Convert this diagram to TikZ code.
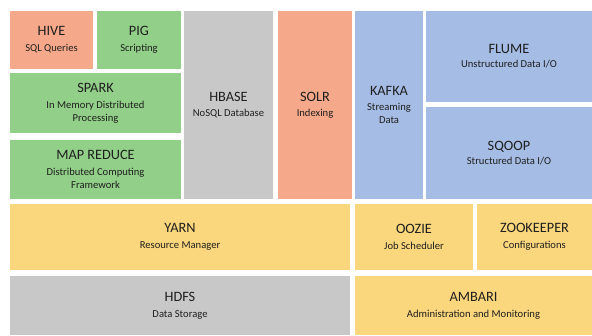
\documentclass[tikz,border=0pt]{standalone}
\usepackage{fontspec}
\setmainfont{Carlito}
\usetikzlibrary{positioning}

\definecolor{hivered}{RGB}{246,168,138}
\definecolor{sparkgreen}{RGB}{146,207,136}
\definecolor{storegray}{RGB}{200,200,200}
\definecolor{ingestblue}{RGB}{165,189,228}
\definecolor{mgmtyellow}{RGB}{250,214,124}

\newcommand{\blocktitle}[1]{{\fontsize{14.3}{15}\selectfont #1}}

\begin{document}
\begin{tikzpicture}[
    x=1pt, y=-1pt,
    tile/.style={anchor=north west, align=center, inner sep=2pt, outer sep=0pt,
                 text=black!88, font=\fontsize{10.6}{13}\selectfont},
    redtile/.style={tile, fill=hivered},
    greentile/.style={tile, fill=sparkgreen},
    graytile/.style={tile, fill=storegray},
    bluetile/.style={tile, fill=ingestblue},
    yellowtile/.style={tile, fill=mgmtyellow}
  ]
  \useasboundingbox (0,0) rectangle (592,335);

  % ---- processing stack ----
  \node[redtile, minimum width=83pt, minimum height=58pt] (hive) at (10,11)
    {\blocktitle{HIVE}\\[3pt] SQL Queries};
  \node[greentile, minimum width=84pt, minimum height=58pt] (pig) at (97,11)
    {\blocktitle{PIG}\\[3pt] Scripting};
  \node[greentile, minimum width=171pt, minimum height=60pt] (spark) at (10,73)
    {\blocktitle{SPARK}\\[3pt] In Memory Distributed\\ Processing};
  \node[greentile, minimum width=171pt, minimum height=59pt] (mapred) at (10,140)
    {\blocktitle{MAP REDUCE}\\[3pt] Distributed Computing\\ Framework};

  % ---- storage and search ----
  \node[graytile, minimum width=89pt, minimum height=188pt] (hbase) at (184,11)
    {\blocktitle{HBASE}\\[2pt] NoSQL Database};
  \node[redtile, minimum width=74pt, minimum height=188pt] (solr) at (278,11)
    {\blocktitle{SOLR}\\[2pt] Indexing};

  % ---- data ingestion ----
  \node[bluetile, minimum width=68pt, minimum height=188pt] (kafka) at (355,11)
    {\blocktitle{KAFKA}\\[2pt] Streaming\\ Data};
  \node[bluetile, minimum width=166pt, minimum height=91pt] (flume) at (426,11)
    {\blocktitle{FLUME}\\[1pt] Unstructured Data I/O};
  \node[bluetile, minimum width=166pt, minimum height=92pt] (sqoop) at (426,107)
    {\blocktitle{SQOOP}\\[1pt] Structured Data I/O};

  % ---- resources and coordination ----
  \node[yellowtile, minimum width=340pt, minimum height=66pt] (yarn) at (10,204)
    {\blocktitle{YARN}\\[3pt] Resource Manager};
  \node[yellowtile, minimum width=118pt, minimum height=66pt] (oozie) at (355,204)
    {\blocktitle{OOZIE}\\[3pt] Job Scheduler};
  \node[yellowtile, minimum width=115pt, minimum height=66pt] (zookeeper) at (477,204)
    {\blocktitle{ZOOKEEPER}\\[3pt] Configurations};

  % ---- bottom row ----
  \node[graytile, minimum width=340pt, minimum height=59pt] (hdfs) at (10,276)
    {\blocktitle{HDFS}\\[3pt] Data Storage};
  \node[yellowtile, minimum width=237pt, minimum height=59pt] (ambari) at (355,276)
    {\blocktitle{AMBARI}\\[3pt] Administration and Monitoring};

\end{tikzpicture}
\end{document}
